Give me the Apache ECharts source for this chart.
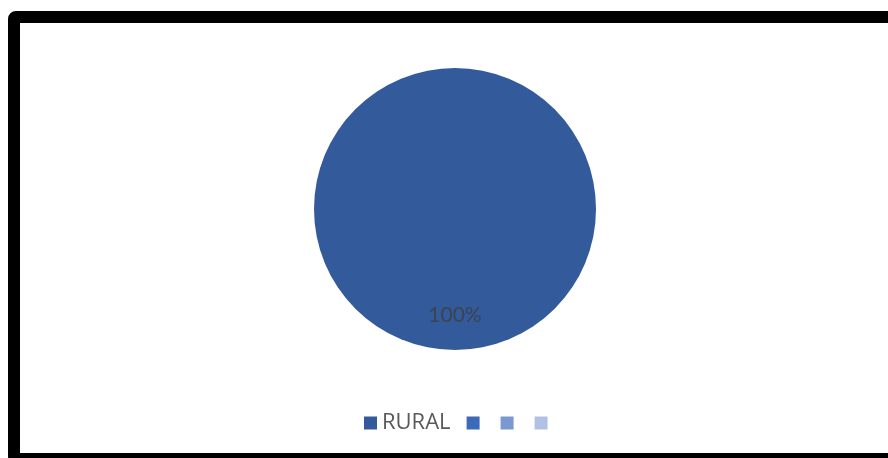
<!DOCTYPE html>
<html>
<head>
<meta charset="utf-8">
<script src="https://cdn.jsdelivr.net/npm/echarts@6/dist/echarts.min.js"></script>
<style>
    html, body { margin: 0; padding: 0; background: #fff; overflow: hidden; }
    #frame {
        position: absolute; left: 8px; top: 11px;
        width: 900px; height: 454px; box-sizing: border-box;
        border: 12px solid #000; border-radius: 8px;
    }
    #main { position: absolute; left: 0; top: 0; width: 888px; height: 458px; }
</style>
</head>
<body>
<div id="frame"></div>
<div id="main"></div>
<script>
// categories, values and colours
var categories = ['RURAL', '\u200b', '\u200b\u200b', '\u200b\u200b\u200b'];
var values = [100, 0, 0, 0];
var colors = ['#335A9B', '#3C69BA', '#7B98D3', '#B0C1E5'];

function initPie() {
    var chart = echarts.init(document.getElementById('main'));

    var pieData = [];
    for (var i = 0; i < categories.length; i++) {
        pieData.push({
            name: categories[i],
            value: values[i],
            itemStyle: { color: colors[i] }
        });
    }

    var option = {
        backgroundColor: 'transparent',
        animation: false,
        legend: {
            data: categories,
            left: 364,
            top: 412,
            padding: 0,
            itemWidth: 13,
            itemHeight: 13,
            itemGap: 16,
            icon: 'rect',
            textStyle: {
                fontFamily: 'Open Sans',
                fontSize: 22,
                color: '#595959'
            }
        },
        series: [{
            type: 'pie',
            center: [455, 209],
            radius: 141,
            startAngle: 90,
            avoidLabelOverlap: false,
            itemStyle: { borderWidth: 0 },
            label: {
                position: 'inner',
                fontFamily: 'Lato',
                fontSize: 21,
                color: '#3C4350',
                offset: [0, 33],
                formatter: function (p) {
                    return p.value > 0 ? Math.round(p.percent) + '%' : '';
                }
            },
            labelLine: { show: false },
            emphasis: { disabled: true },
            data: pieData
        }]
    };

    chart.setOption(option);
}

initPie();
</script>
</body>
</html>
